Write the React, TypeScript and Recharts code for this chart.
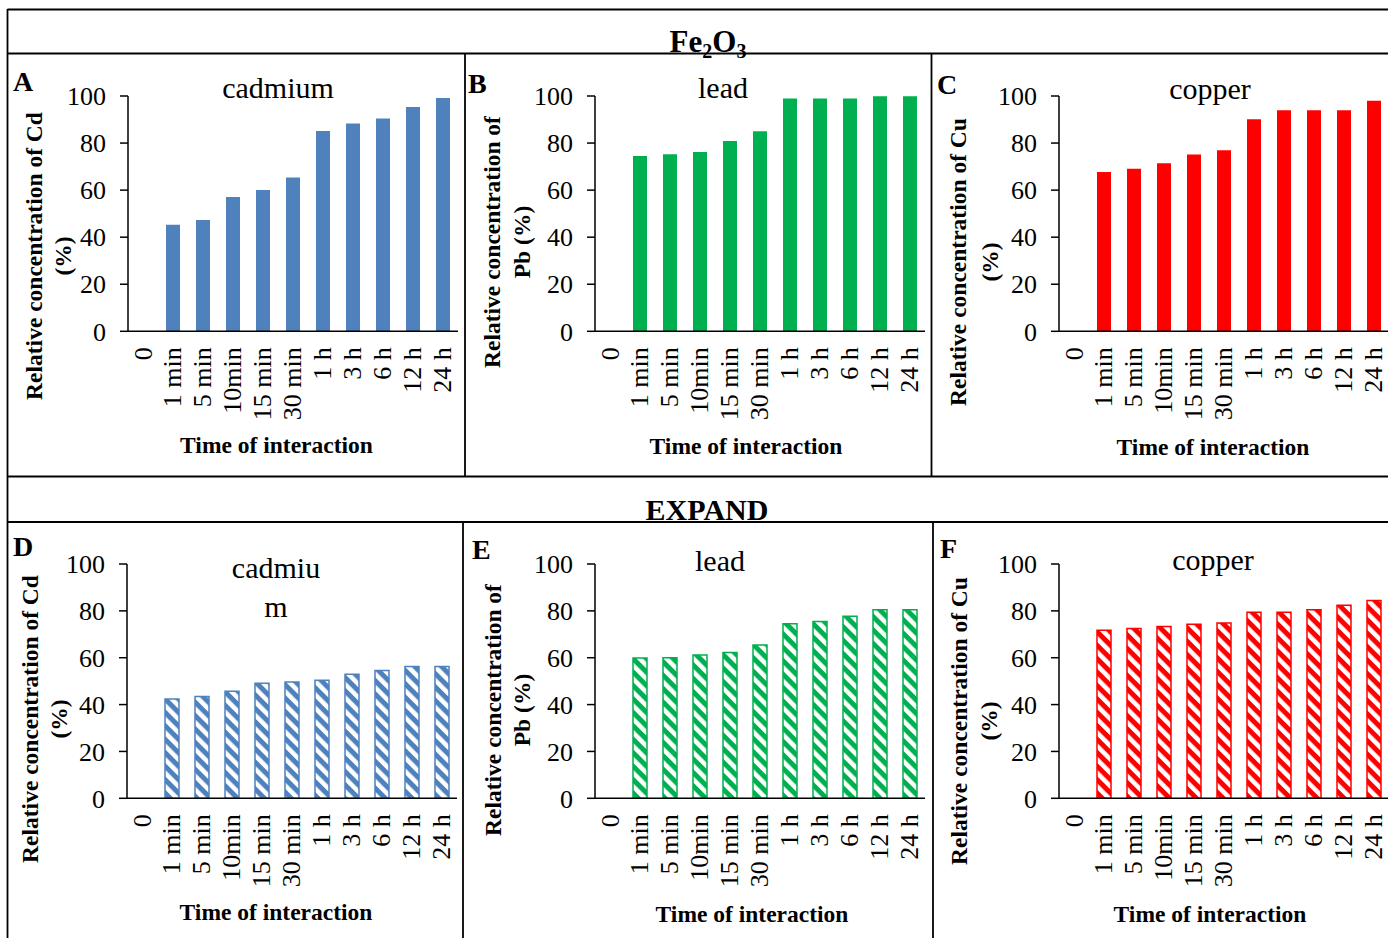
import React from 'react';
import { BarChart, Bar, XAxis, YAxis } from 'recharts';

const categories = ['0', '1 min', '5 min', '10min', '15 min', '30 min', '1 h', '3 h', '6 h', '12 h', '24 h'];
const yTicks = [0, 20, 40, 60, 80, 100];

// Fe2O3 row
const cdFe2O3 = [0, 45.3, 47.3, 57.1, 60.0, 65.4, 85.1, 88.3, 90.4, 95.3, 99.2];
const pbFe2O3 = [0, 74.5, 75.2, 76.2, 80.9, 85.0, 98.9, 98.9, 98.9, 99.9, 99.9];
const cuFe2O3 = [0, 67.7, 69.1, 71.4, 75.1, 76.9, 90.1, 93.9, 93.9, 93.9, 98.0];

// EXPAND row
const cdExpand = [0, 42.4, 43.4, 45.7, 49.1, 49.6, 50.4, 52.9, 54.5, 56.2, 56.3];
const pbExpand = [0, 59.9, 60.0, 61.2, 62.2, 65.4, 74.5, 75.5, 77.7, 80.5, 80.5];
const cuExpand = [0, 71.7, 72.5, 73.3, 74.3, 74.8, 79.4, 79.4, 80.5, 82.4, 84.4];

const BLUE = '#4F81BD';
const GREEN = '#00B050';
const RED = '#FF0000';

const FONT = '"Liberation Serif", "Times New Roman", serif';

const TimeTick = (props: any) => {
  const { x, y, payload } = props;
  return (
    <text
      x={x}
      y={y}
      transform={`rotate(-90, ${x}, ${y})`}
      textAnchor="end"
      dominantBaseline="central"
      fontSize={26}
      fontFamily={FONT}
      fill="#000"
    >
      {payload.value}
    </text>
  );
};

interface PanelProps {
  id: string;
  values: number[];
  color: string;
  hatched?: boolean;
  axisX: number;
  y100: number;
  y0: number;
}

const Panel = ({ id, values, color, hatched, axisX, y100, y0 }: PanelProps) => {
  const padL = 110, padT = 30, padR = 10, xAxisH = 110;
  const plotW = 330;
  const width = padL + plotW + padR;
  const height = padT + (y0 - y100) + xAxisH;
  const data = categories.map((time, i) => ({ time, value: values[i] }));

  return (
    <div style={{ position: 'absolute', left: axisX - padL, top: y100 - padT }}>
      <BarChart
        width={width}
        height={height}
        data={data}
        margin={{ top: padT, right: padR, bottom: 0, left: padL - 70 }}
        barSize={14}
      >
        <defs>
          <pattern id={id} patternUnits="userSpaceOnUse" width={9.5} height={9.5} patternTransform="rotate(45)">
            <rect width={9.5} height={9.5} fill="#fff" />
            <rect width={9.5} height={5} fill={color} />
          </pattern>
        </defs>
        <XAxis
          dataKey="time"
          height={xAxisH}
          interval={0}
          tickLine={false}
          tickSize={6}
          tickMargin={10}
          axisLine={{ stroke: '#000', strokeWidth: 1.5 }}
          tick={<TimeTick />}
        />
        <YAxis
          width={70}
          domain={[0, 100]}
          ticks={yTicks}
          tickSize={8}
          tickMargin={14}
          axisLine={{ stroke: '#000', strokeWidth: 1.5 }}
          tickLine={{ stroke: '#000', strokeWidth: 1.5 }}
          tick={{ fill: '#000', fontSize: 26, fontFamily: FONT }}
        />
        <Bar
          dataKey="value"
          fill={hatched ? `url(#${id})` : color}
          stroke={hatched ? color : 'none'}
          strokeWidth={hatched ? 1.5 : 0}
          isAnimationActive={false}
        />
      </BarChart>
    </div>
  );
};

const bold = { fontFamily: FONT, fontWeight: 700, fill: '#000' } as const;
const plain = { fontFamily: FONT, fill: '#000' } as const;

const YTitle = ({ x1, x2, y, line1, line2 }: { x1: number; x2: number; y: number; line1: string; line2: string }) => (
  <g>
    <text x={x1} y={y} transform={`rotate(-90, ${x1}, ${y})`} textAnchor="middle" dominantBaseline="central" fontSize={23.5} {...bold}>
      {line1}
    </text>
    <text x={x2} y={y} transform={`rotate(-90, ${x2}, ${y})`} textAnchor="middle" dominantBaseline="central" fontSize={23.5} {...bold}>
      {line2}
    </text>
  </g>
);

const Overlay = () => (
  <svg width={1388} height={938} style={{ position: 'absolute', left: 0, top: 0, pointerEvents: 'none' }}>
    {/* frame */}
    <g stroke="#000" strokeWidth={1.8}>
      <line x1={7.5} y1={9.5} x2={1388} y2={9.5} />
      <line x1={7.5} y1={53.5} x2={1388} y2={53.5} />
      <line x1={7.5} y1={476.5} x2={1388} y2={476.5} />
      <line x1={7.5} y1={522} x2={1388} y2={522} />
      <line x1={7.5} y1={9} x2={7.5} y2={938} />
      <line x1={465} y1={54} x2={465} y2={476} />
      <line x1={931.5} y1={54} x2={931.5} y2={476} />
      <line x1={463} y1={522} x2={463} y2={938} />
      <line x1={933} y1={522} x2={933} y2={938} />
    </g>

    {/* section headers */}
    <text x={708} y={52} textAnchor="middle" fontSize={31} {...bold}>
      Fe<tspan fontSize={20} dy={6}>2</tspan><tspan dy={-6}>O</tspan><tspan fontSize={20} dy={6}>3</tspan>
    </text>
    <text x={707} y={520} textAnchor="middle" fontSize={30} {...bold}>EXPAND</text>

    {/* panel letters */}
    <text x={13} y={91} fontSize={28} {...bold}>A</text>
    <text x={468} y={93} fontSize={28} {...bold}>B</text>
    <text x={937} y={94} fontSize={28} {...bold}>C</text>
    <text x={13} y={556} fontSize={28} {...bold}>D</text>
    <text x={472} y={559} fontSize={28} {...bold}>E</text>
    <text x={940} y={558} fontSize={28} {...bold}>F</text>

    {/* chart titles */}
    <text x={278} y={98} textAnchor="middle" fontSize={30} {...plain}>cadmium</text>
    <text x={723} y={98} textAnchor="middle" fontSize={30} {...plain}>lead</text>
    <text x={1210} y={99} textAnchor="middle" fontSize={30} {...plain}>copper</text>
    <text x={276} y={578} textAnchor="middle" fontSize={30} {...plain}>cadmiu</text>
    <text x={276} y={617} textAnchor="middle" fontSize={30} {...plain}>m</text>
    <text x={720} y={571} textAnchor="middle" fontSize={30} {...plain}>lead</text>
    <text x={1213} y={570} textAnchor="middle" fontSize={30} {...plain}>copper</text>

    {/* y axis titles */}
    <YTitle x1={34} x2={63} y={256} line1="Relative concentration of Cd" line2="(%)" />
    <YTitle x1={492} x2={522} y={242} line1="Relative concentration of" line2="Pb (%)" />
    <YTitle x1={958} x2={990} y={262} line1="Relative concentration of Cu" line2="(%)" />
    <YTitle x1={30} x2={59} y={719} line1="Relative concentration of Cd" line2="(%)" />
    <YTitle x1={493} x2={522} y={710} line1="Relative concentration of" line2="Pb (%)" />
    <YTitle x1={959} x2={989} y={721} line1="Relative concentration of Cu" line2="(%)" />

    {/* x axis titles */}
    <text x={276.5} y={453} textAnchor="middle" fontSize={23.5} {...bold}>Time of interaction</text>
    <text x={746} y={454} textAnchor="middle" fontSize={23.5} {...bold}>Time of interaction</text>
    <text x={1213} y={455} textAnchor="middle" fontSize={23.5} {...bold}>Time of interaction</text>
    <text x={276} y={920} textAnchor="middle" fontSize={23.5} {...bold}>Time of interaction</text>
    <text x={752} y={922} textAnchor="middle" fontSize={23.5} {...bold}>Time of interaction</text>
    <text x={1210} y={922} textAnchor="middle" fontSize={23.5} {...bold}>Time of interaction</text>
  </svg>
);

export default function App() {
  return (
    <div style={{ position: 'absolute', left: 0, top: 0, width: 1388, height: 938, overflow: 'hidden', background: '#fff' }}>
      <Panel id="cd-fe" values={cdFe2O3} color={BLUE} axisX={127.6} y100={95.7} y0={331} />
      <Panel id="pb-fe" values={pbFe2O3} color={GREEN} axisX={595} y100={95.7} y0={331} />
      <Panel id="cu-fe" values={cuFe2O3} color={RED} axisX={1059} y100={95.7} y0={331} />
      <Panel id="cd-ex" values={cdExpand} color={BLUE} hatched axisX={126.7} y100={564} y0={798.3} />
      <Panel id="pb-ex" values={pbExpand} color={GREEN} hatched axisX={595} y100={564} y0={798.3} />
      <Panel id="cu-ex" values={cuExpand} color={RED} hatched axisX={1059} y100={564} y0={798.3} />
      <Overlay />
    </div>
  );
}
